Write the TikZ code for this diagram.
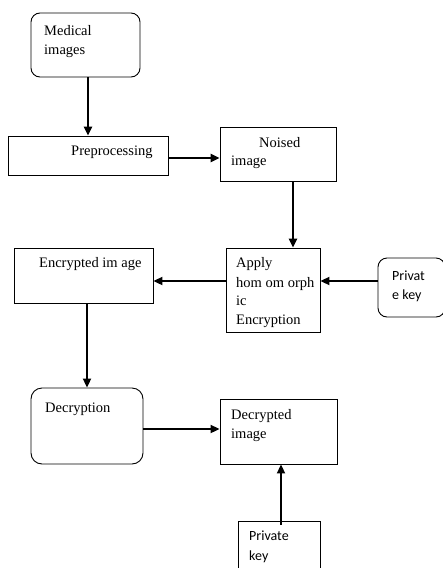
\documentclass[tikz,border=0pt]{standalone}
\usepackage{fontspec}
\setmainfont{Liberation Serif}
\newfontfamily\keyfont{Carlito}
\usetikzlibrary{arrows.meta}

\begin{document}
\begin{tikzpicture}[x=1pt, y=-1pt,
	box/.style={draw, line width=0.9pt, inner sep=0pt},
	rbox/.style={box, rounded corners=9pt},
	txt/.style={anchor=base west, inner sep=0pt, font=\fontsize{14.5}{17}\selectfont},
	ktxt/.style={txt, font=\keyfont\fontsize{14}{17}\selectfont},
	arr/.style={-{Triangle[length=9pt,width=8pt]}, line width=2pt},
	tarr/.style={arr, line width=2.6pt}]

	\useasboundingbox (0,0) rectangle (443,568);

	% boxes
	\node[rbox, minimum width=109pt, minimum height=64pt] (med) at (85.5,45) {};
	\node[box, minimum width=160pt, minimum height=39pt] (pre) at (88,155.5) {};
	\node[box, minimum width=116pt, minimum height=54pt] (noise) at (278,154) {};
	\node[box, minimum width=94pt, minimum height=84pt] (apply) at (273,290) {};
	\node[rbox, minimum width=67pt, minimum height=59pt] (key1) at (411.5,287.5) {};
	\node[box, minimum width=139pt, minimum height=55pt] (enc) at (83.5,275.5) {};
	\node[rbox, rounded corners=11pt, minimum width=112pt, minimum height=76pt] (dec) at (87,426) {};
	\node[box, minimum width=117pt, minimum height=65pt] (decimg) at (278.5,431.5) {};
	\node[box, minimum width=82pt, minimum height=54pt] (key2) at (279,548) {};

	% texts
	\node[txt] (t1) at (44,35) {Medical};
	\node[txt] (t2) at (44,54) {images};
	\node[txt] (t3) at (71,155) {Preprocessing};
	\node[txt] (t4) at (259,147) {Noised};
	\node[txt] (t5) at (231,165) {image};
	\node[txt] (t6) at (39,267) {Encrypted im age};
	\node[txt] (t7) at (236,267) {Apply};
	\node[txt] (t8) at (236,287) {hom om orph};
	\node[txt] (t9) at (236,305) {ic};
	\node[txt] (t10) at (236,324) {Encryption};
	\node[ktxt] (t11) at (392,280) {Privat};
	\node[ktxt] (t12) at (392,299) {e key};
	\node[txt] (t13) at (45,412) {Decryption};
	\node[txt] (t14) at (231,419) {Decrypted};
	\node[txt] (t15) at (231,438) {image};
	\node[ktxt] (t16) at (249,540) {Private};
	\node[ktxt] (t17) at (249,560) {key};

	% arrows
	\draw[tarr] (pre.north |- med.south) -- (pre.north);
	\draw[tarr] ([yshift=-2.5pt]pre.east) -- ([yshift=-2.5pt]pre.east -| noise.west);
	\draw[tarr] ([xshift=15pt]noise.south) -- ([xshift=15pt]noise.south |- apply.north);
	\draw[arr] ([yshift=9pt]apply.west) -- ([yshift=9pt]apply.west -| enc.east);
	\draw[arr] ([yshift=6.5pt]key1.west) -- ([yshift=6.5pt]key1.west -| apply.east);
	\draw[line width=2pt] (dec.north |- enc.south) -- ([yshift=9pt]dec.north);
	\draw[arr] ([yshift=9pt]dec.north) -- (dec.north);
	\draw[arr] ([yshift=-3pt]dec.east) -- ([yshift=-3pt]dec.east -| decimg.west);
	\draw[arr] ([xshift=2pt,yshift=-4pt]key2.north) -- ([xshift=2pt]key2.north |- decimg.south);
\end{tikzpicture}
\end{document}
